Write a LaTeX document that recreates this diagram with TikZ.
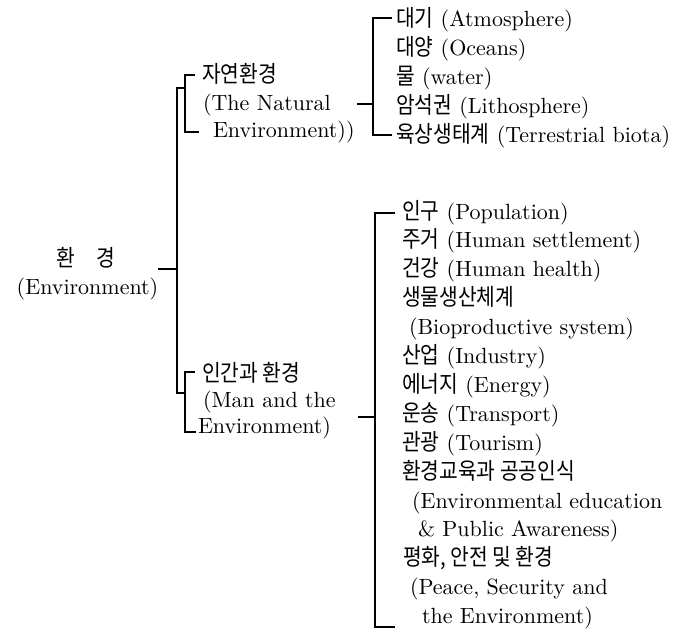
\documentclass[tikz,border=0pt]{standalone}
\usepackage{fontspec}
\setmainfont{lmroman10-regular.otf}
\newfontfamily\krfont[FakeStretch=0.88,Scale=1.05]{Noto Sans CJK KR}
\newcommand\kor[1]{{\krfont #1}}
\begin{document}
\begin{tikzpicture}[x=1pt,y=-1pt,
  txt/.style={anchor=base west, inner sep=0pt, outer sep=0pt, font=\fontsize{22}{26}\selectfont},
  ctr/.style={anchor=base, inner sep=0pt, outer sep=0pt, font=\fontsize{22}{26}\selectfont},
  link/.style={line width=1.1pt, line join=miter}]
\useasboundingbox (0,0) rectangle (683,637);

% root
\node[ctr] (root1) at (86,266) {\kor{환\hspace{22pt}경}};
\node[ctr] (root2) at (87.5,294.5) {(Environment)};

% level 1
\node[txt] (na1) at (202,82) {\kor{자연환경}};
\node[txt] (na2) at (203,110) {(The Natural};
\node[txt] (na3) at (213,137) {Environment))};

\node[txt] (ma1) at (202,381) {\kor{인간과 환경}};
\node[txt] (ma2) at (203,407) {(Man and the};
\node[txt] (ma3) at (198,433) {Environment)};

% natural environment items
\node[txt] (n1) at (396,26)  {\kor{대기} (Atmosphere)};
\node[txt] (n2) at (396,55)  {\kor{대양} (Oceans)};
\node[txt] (n3) at (396,84)  {\kor{물} (water)};
\node[txt] (n4) at (396,113) {\kor{암석권} (Lithosphere)};
\node[txt] (n5) at (396,142) {\kor{육상생태계} (Terrestrial biota)};

% man and environment items
\node[txt] (m1)  at (402,219)   {\kor{인구} (Population)};
\node[txt] (m2)  at (402,247.9) {\kor{주거} (Human settlement)};
\node[txt] (m3)  at (402,276.8) {\kor{건강} (Human health)};
\node[txt] (m4)  at (402,305.7) {\kor{생물생산체계}};
\node[txt] (m4b) at (409,334.6) {(Bioproductive system)};
\node[txt] (m5)  at (402,363.5) {\kor{산업} (Industry)};
\node[txt] (m6)  at (402,392.4) {\kor{에너지} (Energy)};
\node[txt] (m7)  at (402,421.3) {\kor{운송} (Transport)};
\node[txt] (m8)  at (402,450.2) {\kor{관광} (Tourism)};
\node[txt] (m9)  at (402,479.1) {\kor{환경교육과 공공인식}};
\node[txt] (m9b) at (412,508)   {(Environmental education};
\node[txt] (m9c) at (418,536.9) {\&\ Public Awareness)};
\node[txt] (m10) at (403,565.8) {\kor{평화, 안전 및 환경}};
\node[txt] (m10b) at (410,594.7) {(Peace, Security and};
\node[txt] (m10c) at (422,623.6) {the Environment)};

% bracket coordinates
\coordinate (rootE) at (158,269);
\coordinate (trR)   at (177,269);
\coordinate (trT)   at (177,88);
\coordinate (trB)   at (177,393);
\coordinate (naJ)   at (185,88);
\coordinate (naT)   at (185,75);
\coordinate (naTt)  at (195,75);
\coordinate (naB)   at (185,132);
\coordinate (naBt)  at (199,132);
\coordinate (maJ)   at (185,393);
\coordinate (maT)   at (185,372);
\coordinate (maTt)  at (195,372);
\coordinate (maB)   at (185,432);
\coordinate (maBt)  at (196,432);
\coordinate (nL)    at (357,104);
\coordinate (nJ)    at (373,104);
\coordinate (nT)    at (373,18);
\coordinate (nTt)   at (392,18);
\coordinate (nB)    at (373,135);
\coordinate (nBt)   at (392,135);
\coordinate (mL)    at (358,417);
\coordinate (mJ)    at (375,417);
\coordinate (mT)    at (375,213);
\coordinate (mTt)   at (395,213);
\coordinate (mB)    at (375,627);
\coordinate (mBt)   at (395,627);

% connectors
\draw[link] (rootE) -- (trR);
\draw[link] (naJ) -- (trT) -- (trB) -- (maJ);
\draw[link] (naTt) -- (naT) -- (naB) -- (naBt);
\draw[link] (maTt) -- (maT) -- (maB) -- (maBt);
\draw[link] (nL) -- (nJ);
\draw[link] (nTt) -- (nT) -- (nB) -- (nBt);
\draw[link] (mL) -- (mJ);
\draw[link] (mTt) -- (mT) -- (mB) -- (mBt);
\end{tikzpicture}
\end{document}
